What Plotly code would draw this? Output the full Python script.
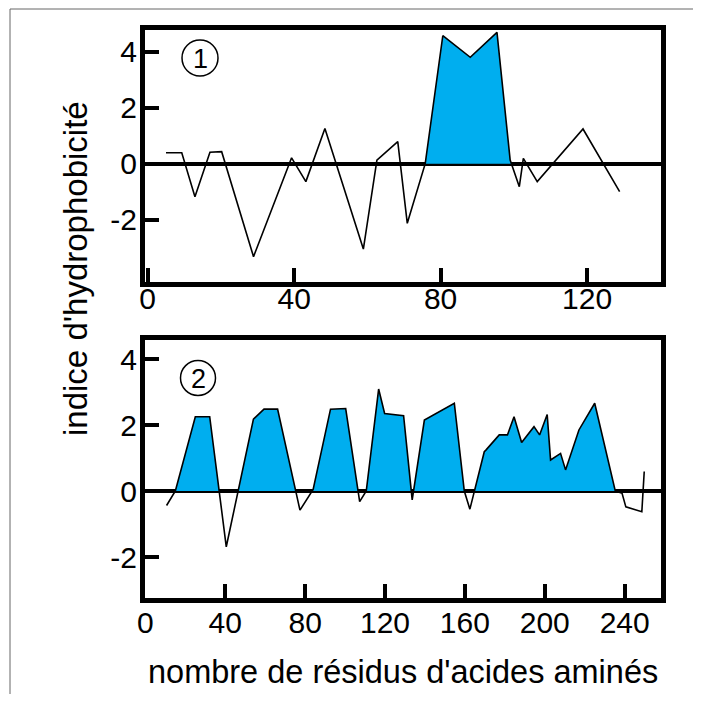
import plotly.graph_objects as go

# ---------------- data ----------------
# Panel 1 (protein 1): residue number vs hydrophobicity index
x1 = [5.0, 9.3, 12.9, 17.0, 20.2, 28.9, 39.3, 43.2, 48.4, 58.9, 62.6, 68.3, 70.9,
      75.8, 80.6, 88.1, 95.4, 99.0, 101.5, 102.6, 106.4, 118.9, 128.9]
y1 = [0.39, 0.39, -1.18, 0.41, 0.43, -3.32, 0.21, -0.64, 1.26, -3.05, 0.13, 0.79, -2.13,
      0.0, 4.57, 3.80, 4.69, 0.13, -0.82, 0.19, -0.64, 1.24, -1.00]
fill1 = [(74.0, 100.5)]          # hydrophobic segment(s) shaded

# Panel 2 (protein 2)
x2 = [10.6, 15.0, 25.0, 32.2, 40.5, 54.1, 59.4, 66.2, 77.4, 84.0, 92.7, 100.3, 107.3,
      110.6, 116.8, 119.8, 129.3, 133.6, 139.7, 154.7, 159.7, 162.5, 169.7, 170.5,
      177.2, 181.3, 184.6, 188.4, 194.6, 197.4, 201.2, 202.9, 207.9, 210.4, 217.1,
      225.0, 235.3, 238.7, 240.6, 248.6, 249.8]
y2 = [-0.44, 0.0, 2.25, 2.25, -1.69, 2.18, 2.48, 2.48, -0.58, 0.05, 2.48, 2.50, -0.32,
      0.0, 3.09, 2.35, 2.28, -0.27, 2.15, 2.66, 0.0, -0.55, 1.19, 1.24,
      1.70, 1.70, 2.25, 1.47, 1.95, 1.70, 2.32, 0.94, 1.14, 0.64, 1.85,
      2.66, 0.0, -0.07, -0.48, -0.63, 0.59]
fill2 = [(14.0, 236.0)]

x1_ticks = [0, 40, 80, 120]
x2_ticks = [0, 40, 80, 120, 160, 200, 240]
y_ticks = [-2, 0, 2, 4]
y_ticktext = ["-2", "0", "2", "4"]

panel_labels = ["1", "2"]
x_title = "nombre de résidus d'acides aminés"
y_title = "indice d'hydrophobicité"

FILL = "#00AEEF"
FONT = "Liberation Sans"

# ---------------- helpers ----------------
def clipped_positive(xs, ys, lo, hi):
    """Insert zero crossings and clip negative values to 0, within [lo, hi]."""
    px, py = [], []
    for i in range(len(xs)):
        if i > 0:
            xa, ya, xb, yb = xs[i - 1], ys[i - 1], xs[i], ys[i]
            if ya * yb < 0:
                xc = xa + (xb - xa) * (-ya) / (yb - ya)
                px.append(xc); py.append(0.0)
        px.append(xs[i]); py.append(ys[i])
    ox, oy = [], []
    for a, b in zip(px, py):
        if lo <= a <= hi:
            ox.append(a); oy.append(max(b, 0.0))
    return ox, oy

# page body has an 8px margin: work in viewport pixels, convert to figure pixels
OFF = 8
W, H = 685, 686
PLOT_L, PLOT_R, PLOT_T, PLOT_B = 145, 661, 30, 598   # viewport px
L = PLOT_L - OFF
T = PLOT_T - OFF
R = W - (PLOT_R - OFF)
B = H - (PLOT_B - OFF)
PW, PH = W - L - R, H - T - B

def pxx(v):
    return (v - OFF - L) / PW

def pxy(v):
    return (H - B - (v - OFF)) / PH

fig = go.Figure()

for xs, ys, fills, xa, ya in [(x1, y1, fill1, "x", "y"), (x2, y2, fill2, "x2", "y2")]:
    for lo, hi in fills:
        fx, fy = clipped_positive(xs, ys, lo, hi)
        fig.add_trace(go.Scatter(x=fx, y=fy, mode="lines", fill="tozeroy",
                                 fillcolor=FILL, line=dict(width=0, color="rgba(0,0,0,0)"),
                                 xaxis=xa, yaxis=ya, hoverinfo="skip", showlegend=False))
    fig.add_trace(go.Scatter(x=xs, y=ys, mode="lines",
                             line=dict(color="black", width=1.6),
                             xaxis=xa, yaxis=ya, hoverinfo="skip", showlegend=False))

axis_common = dict(showline=True, linewidth=5, linecolor="black", mirror=True,
                   ticks="inside", ticklen=14, tickwidth=4, tickcolor="black",
                   showgrid=False, tickfont=dict(family=FONT, size=30, color="black"))

top_dom = [pxy(282), pxy(30)]
bot_dom = [pxy(598), pxy(340)]

fig.update_layout(
    width=W, height=H,
    margin=dict(l=L, r=R, t=T, b=B),
    paper_bgcolor="white", plot_bgcolor="white",
    xaxis=dict(axis_common, range=[-0.74, 140.2], tickvals=x1_ticks, zeroline=False,
               ticklabelstandoff=-14, anchor="y", domain=[0, 1]),
    yaxis=dict(axis_common, range=[-4.225, 4.775], tickvals=y_ticks, ticktext=y_ticktext,
               zeroline=True, zerolinewidth=4, zerolinecolor="black",
               ticklabelstandoff=-3, anchor="x", domain=top_dom),
    xaxis2=dict(axis_common, range=[-0.2, 258.2], tickvals=x2_ticks, zeroline=False,
                ticklabelstandoff=-6, anchor="y2", domain=[0, 1]),
    yaxis2=dict(axis_common, range=[-3.242, 4.576], tickvals=y_ticks, ticktext=y_ticktext,
                zeroline=True, zerolinewidth=4, zerolinecolor="black",
                ticklabelstandoff=-3, anchor="x2", domain=bot_dom),
)

shapes = []
annotations = []
# circled panel numbers
for lab, (cx, cy, r) in zip(panel_labels, [(200, 58, 18), (198, 378, 17.5)]):
    shapes.append(dict(type="circle", xref="paper", yref="paper",
                       x0=pxx(cx - r), x1=pxx(cx + r), y0=pxy(cy + r), y1=pxy(cy - r),
                       line=dict(color="black", width=1.5)))
    annotations.append(dict(text=lab, xref="paper", yref="paper", x=pxx(cx), y=pxy(cy + 1),
                            showarrow=False, xanchor="center", yanchor="middle",
                            font=dict(family=FONT, size=27, color="black")))

# outer frame (left and top edges)
shapes.append(dict(type="line", xref="paper", yref="paper",
                   x0=pxx(10), x1=pxx(10), y0=pxy(9), y1=pxy(720),
                   line=dict(color="#666666", width=1)))
shapes.append(dict(type="line", xref="paper", yref="paper",
                   x0=pxx(10), x1=pxx(720), y0=pxy(9), y1=pxy(9),
                   line=dict(color="#666666", width=1)))

annotations.append(dict(text=x_title, xref="paper", yref="paper", x=pxx(403), y=pxy(672),
                        showarrow=False, xanchor="center", yanchor="middle",
                        font=dict(family=FONT, size=32.5, color="black")))
annotations.append(dict(text=y_title, xref="paper", yref="paper", x=pxx(75), y=pxy(269),
                        showarrow=False, xanchor="center", yanchor="middle", textangle=-90,
                        font=dict(family=FONT, size=33, color="black")))

fig.update_layout(shapes=shapes, annotations=annotations)

fig.write_html("out.html")
